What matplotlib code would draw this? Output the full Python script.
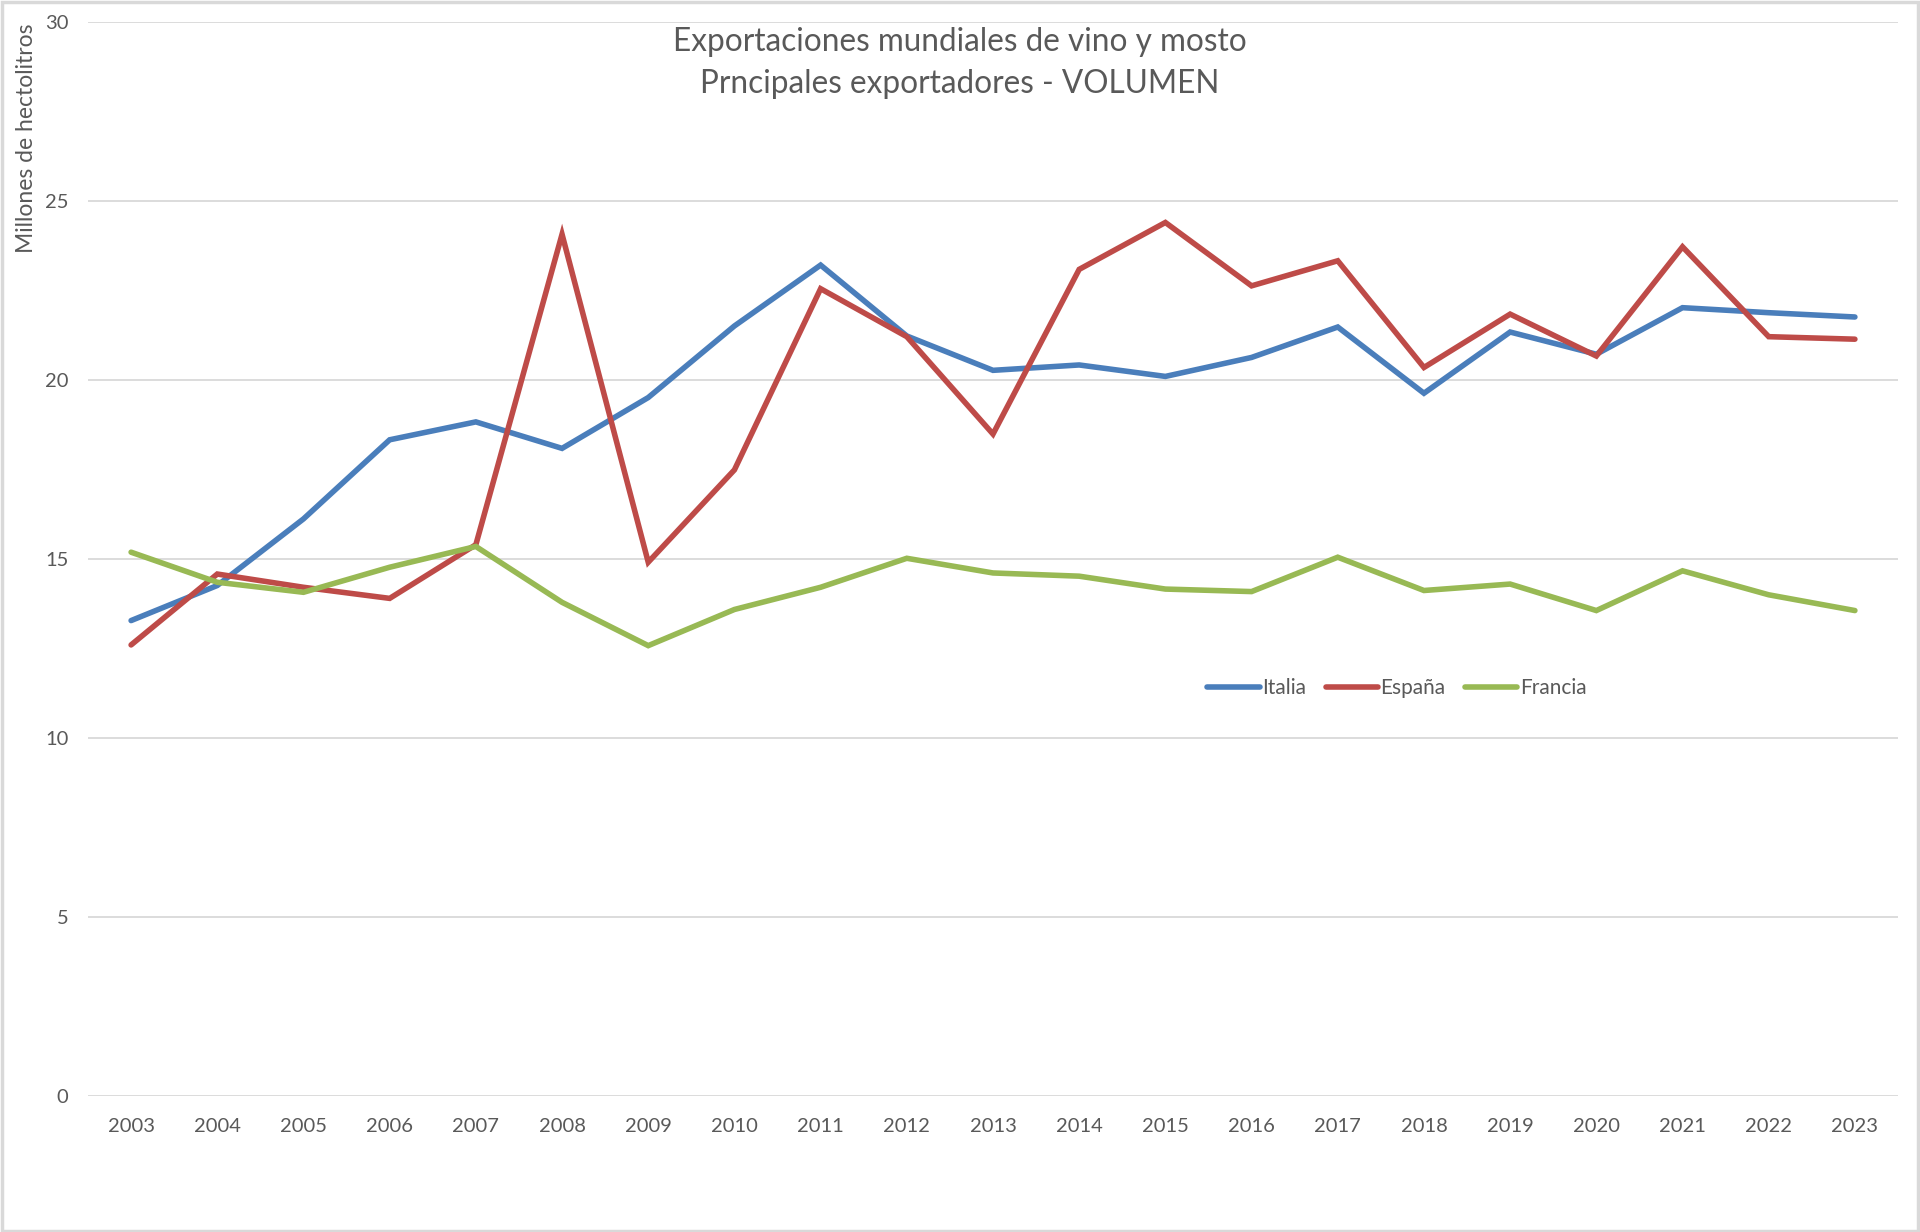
import matplotlib
matplotlib.use('Agg')
import matplotlib.pyplot as plt
from matplotlib.patches import Rectangle

years = [str(y) for y in range(2003, 2024)]

italia = [13.28, 14.26, 16.12, 18.33, 18.83, 18.09, 19.51, 21.51, 23.21, 21.23, 20.27,
          20.42, 20.10, 20.63, 21.48, 19.63, 21.34, 20.72, 22.02, 21.88, 21.76]
espana = [12.60, 14.58, 14.21, 13.90, 15.40, 24.07, 14.91, 17.49, 22.55, 21.21, 18.49,
          23.09, 24.40, 22.63, 23.33, 20.35, 21.84, 20.67, 23.72, 21.21, 21.14]
francia = [15.19, 14.35, 14.07, 14.77, 15.35, 13.79, 12.58, 13.59, 14.21, 15.02, 14.61,
           14.52, 14.16, 14.09, 15.05, 14.12, 14.30, 13.56, 14.67, 14.00, 13.56]

series = [('Italia', italia, '#4A7EBB'),
          ('España', espana, '#BE4B48'),
          ('Francia', francia, '#98B954')]

TEXT = '#595959'
GRID = '#D9D9D9'

plt.rcParams['font.family'] = ['Lato', 'DejaVu Sans']

fig = plt.figure(figsize=(19.2, 12.32), dpi=100)
ax = fig.add_axes([88 / 1920, 1 - 1096 / 1232, 1810 / 1920, 1074 / 1232])

x = list(range(len(years)))
for name, vals, col in series:
    ax.plot(x, vals, color=col, lw=4.0, label=name, solid_capstyle='round',
            solid_joinstyle='miter')

ax.set_xlim(-0.5, len(years) - 0.5)
ax.set_ylim(0, 30)
ax.set_yticks(range(0, 31, 5))
ax.set_xticks(x)
ax.set_xticklabels(years)
ax.grid(axis='y', color=GRID, lw=1.3)
ax.set_axisbelow(True)
for s in ax.spines.values():
    s.set_visible(False)
ax.tick_params(axis='both', length=0, labelsize=14.5, labelcolor=TEXT)
ax.tick_params(axis='y', pad=14)
ax.tick_params(axis='x', pad=16)

fig.text(27 / 1920, 1 - 138 / 1232, 'Millones de hectolitros', rotation=90,
         ha='center', va='center', fontsize=16.5, color=TEXT)

fig.text(0.5, 1 - 42 / 1232, 'Exportaciones mundiales de vino y mosto',
         ha='center', va='center', fontsize=22.7, color=TEXT)
fig.text(0.5, 1 - 84 / 1232, 'Prncipales exportadores - VOLUMEN',
         ha='center', va='center', fontsize=22.7, color=TEXT)

leg = fig.legend(loc='center', bbox_to_anchor=(1397 / 1920, 1 - 688 / 1232), ncol=3,
                 frameon=False, fontsize=15, handlelength=2.5, handletextpad=0.12,
                 columnspacing=0.95)
for t in leg.get_texts():
    t.set_color(TEXT)

fig.patches.append(Rectangle((0.001, 0.001), 0.998, 0.997, transform=fig.transFigure,
                             fill=False, edgecolor=GRID, lw=2.5))

fig.savefig('out.png', dpi=100, facecolor='white')
